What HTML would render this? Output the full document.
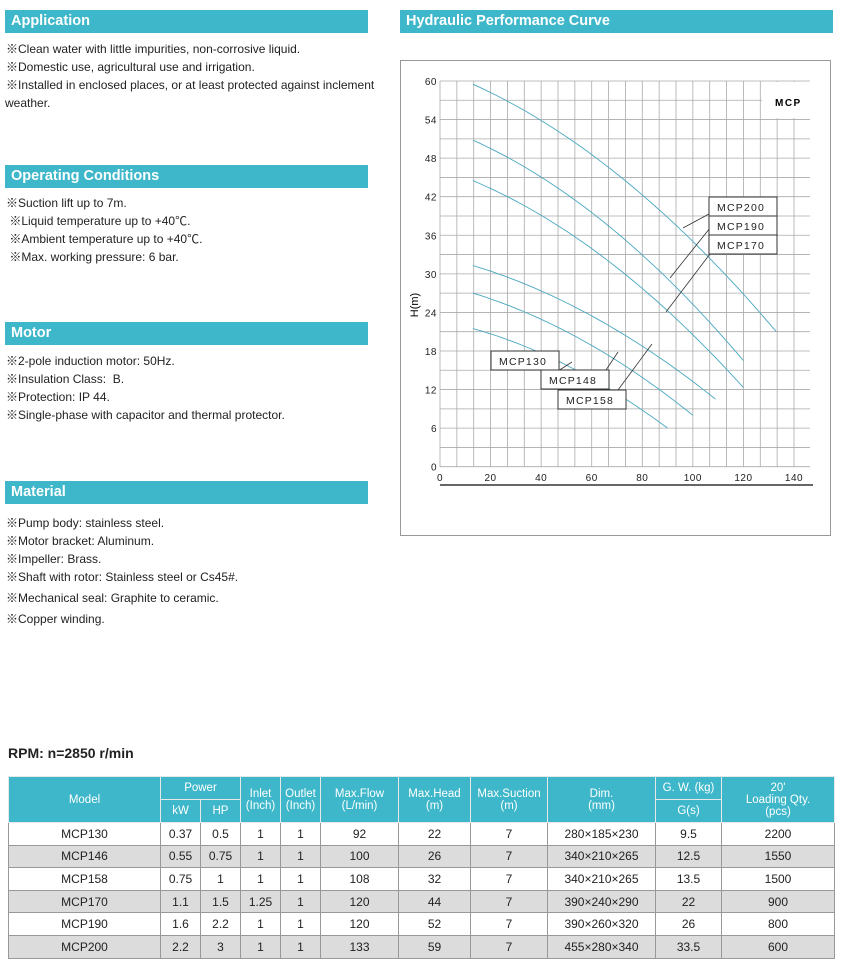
<!DOCTYPE html>
<html><head><meta charset="utf-8"><style>
body{margin:0;width:843px;height:959px;background:#fff;position:relative;overflow:hidden;font-family:"Liberation Sans","Noto Sans CJK SC",sans-serif;color:#222}
.h{position:absolute;background:#3db7c9;color:#fff;font-weight:bold;font-size:14.5px;line-height:23px;padding-left:6px;box-sizing:border-box}
.t{position:absolute;left:6px;font-size:12px;line-height:18px;white-space:nowrap}
table{position:absolute;left:8px;top:776px;border-collapse:collapse;font-size:12px;table-layout:fixed}
td{border:1px solid #999;text-align:center;padding:0;height:21.6px}
.hd td{background:#3db7c9;color:#fff;font-size:11.5px;line-height:12px;border-color:#e8e8e8;height:22px}
tr.g td{background:#dcdcdc}
</style></head><body>
<div class="h" style="left:5px;top:10px;width:363px">Application</div>
<div class="t" style="top:40px">※Clean water with little impurities, non-corrosive liquid.<br>※Domestic use, agricultural use and irrigation.<br>※Installed in enclosed places, or at least protected against inclement<br><span style="margin-left:-1px">weather.</span></div>
<div class="h" style="left:5px;top:165px;width:363px">Operating Conditions</div>
<div class="t" style="top:194px">※Suction lift up to 7m.<br>&nbsp;※Liquid temperature up to +40℃.<br>&nbsp;※Ambient temperature up to +40℃.<br>&nbsp;※Max. working pressure: 6 bar.</div>
<div class="h" style="left:5px;top:322px;width:363px">Motor</div>
<div class="t" style="top:352px">※2-pole induction motor: 50Hz.<br>※Insulation Class:&nbsp; B.<br>※Protection: IP 44.<br>※Single-phase with capacitor and thermal protector.</div>
<div class="h" style="left:5px;top:481px;width:363px">Material</div>
<div class="t" style="top:514px">※Pump body: stainless steel.<br>※Motor bracket: Aluminum.<br>※Impeller: Brass.<br>※Shaft with rotor: Stainless steel or Cs45#.<br><span style="line-height:24px">※Mechanical seal: Graphite to ceramic.</span><br>※Copper winding.</div>
<div class="h" style="left:400px;top:10px;width:433px">Hydraulic Performance Curve</div>
<svg style="position:absolute;left:0;top:0" width="843" height="959" id="s">
<rect x="400.5" y="60.5" width="430" height="475" fill="none" stroke="#999"/>
<g id="grid" stroke="#aaa" stroke-width="0.8"></g>
<rect x="762" y="82" width="48" height="36" fill="#fff"/>
<text x="775" y="106" font-size="10" font-weight="bold" font-family="Liberation Sans" letter-spacing="1.5">MCP</text>
<line x1="440" y1="485" x2="813" y2="485" stroke="#666" stroke-width="2"/>
<g id="curves" fill="none" stroke="#4aa8c0" stroke-width="0.9"></g>
<g id="lab" font-family="Liberation Sans" font-size="10.5" fill="#222" letter-spacing="1.2"></g>
<text transform="translate(418,305) rotate(-90)" font-size="11" font-family="Liberation Sans" text-anchor="middle">H(m)</text>
</svg>
<div style="position:absolute;left:8px;top:745px;font-weight:bold;font-size:14px">RPM: n=2850 r/min</div>
<table>
<colgroup><col style="width:152px"><col style="width:40px"><col style="width:40px"><col style="width:40px"><col style="width:40px"><col style="width:78px"><col style="width:72px"><col style="width:77px"><col style="width:108px"><col style="width:66px"><col style="width:113px"></colgroup>
<tr class="hd"><td rowspan="2">Model</td><td colspan="2">Power</td><td rowspan="2">Inlet<br>(Inch)</td><td rowspan="2">Outlet<br>(Inch)</td><td rowspan="2">Max.Flow<br>(L/min)</td><td rowspan="2">Max.Head<br>(m)</td><td rowspan="2">Max.Suction<br>(m)</td><td rowspan="2">Dim.<br>(mm)</td><td>G. W. (kg)</td><td rowspan="2">20'<br>Loading Qty.<br>(pcs)</td></tr>
<tr class="hd"><td>kW</td><td>HP</td><td>G(s)</td></tr>
<tr><td>MCP130</td><td>0.37</td><td>0.5</td><td>1</td><td>1</td><td>92</td><td>22</td><td>7</td><td>280×185×230</td><td>9.5</td><td>2200</td></tr>
<tr class="g"><td>MCP146</td><td>0.55</td><td>0.75</td><td>1</td><td>1</td><td>100</td><td>26</td><td>7</td><td>340×210×265</td><td>12.5</td><td>1550</td></tr>
<tr><td>MCP158</td><td>0.75</td><td>1</td><td>1</td><td>1</td><td>108</td><td>32</td><td>7</td><td>340×210×265</td><td>13.5</td><td>1500</td></tr>
<tr class="g"><td>MCP170</td><td>1.1</td><td>1.5</td><td>1.25</td><td>1</td><td>120</td><td>44</td><td>7</td><td>390×240×290</td><td>22</td><td>900</td></tr>
<tr><td>MCP190</td><td>1.6</td><td>2.2</td><td>1</td><td>1</td><td>120</td><td>52</td><td>7</td><td>390×260×320</td><td>26</td><td>800</td></tr>
<tr class="g"><td>MCP200</td><td>2.2</td><td>3</td><td>1</td><td>1</td><td>133</td><td>59</td><td>7</td><td>455×280×340</td><td>33.5</td><td>600</td></tr>
</table>
<script>
var NS="http://www.w3.org/2000/svg";
function X(v){return 440+v*354/140}function Y(v){return 466.7-v*385.7/60}
function el(p,t,a,txt){var e=document.createElementNS(NS,t);for(var k in a)e.setAttribute(k,a[k]);if(txt!=null)e.textContent=txt;document.getElementById(p).appendChild(e);return e}
for(var i=0;i<=21;i++){var x=X(i*20/3);if(x>810)x=810;el("grid","line",{x1:x,y1:Y(60),x2:x,y2:Y(0)})}
for(var j=0;j<=20;j++){var y=Y(j*3);el("grid","line",{x1:440,y1:y,x2:810,y2:y})}
for(var i=0;i<=7;i++)el("lab","text",{x:X(i*20),y:481,"text-anchor":"middle","font-size":"10","letter-spacing":"0.5"},i==0?"0":String(i*20));
for(var j=0;j<=10;j++)el("lab","text",{x:437,y:Y(j*6)+4,"text-anchor":"end","font-size":"10","letter-spacing":"0.5"},String(j*6));
var c=[[59.5,133,21],[50.8,120,16.5],[44.5,120,12.3],[31.3,109,10.5],[27,100,8],[21.5,90,6]];
c.forEach(function(q){var d="";for(var k=0;k<=40;k++){var t=k/40,x=13+(q[1]-13)*t,h=q[0]-(q[0]-q[2])*(0.55*t+0.45*t*t);d+=(k?"L":"M")+X(x).toFixed(1)+","+Y(h).toFixed(1)}el("curves","path",{d:d})});
function box(x,y,w,h,txt){el("lab","rect",{x:x,y:y,width:w,height:h,fill:"#fff",stroke:"#333","stroke-width":"1"});el("lab","text",{x:x+8,y:y+h-5},txt)}
[[683,228,720,208],[670,278,710,228],[666,312,716,246]].forEach(function(l){el("lab","line",{x1:l[0],y1:l[1],x2:l[2],y2:l[3],stroke:"#333","stroke-width":"0.8"})});
[[558,371,572,362],[606,370,618,352],[618,390,652,344]].forEach(function(l){el("lab","line",{x1:l[0],y1:l[1],x2:l[2],y2:l[3],stroke:"#333","stroke-width":"0.8"})});
box(709,197,68,19,"MCP200");box(709,216,68,19,"MCP190");box(709,235,68,19,"MCP170");
box(491,351,68,19,"MCP130");box(541,370,68,19,"MCP148");box(558,390,68,19,"MCP158");
</script>
</body></html>
